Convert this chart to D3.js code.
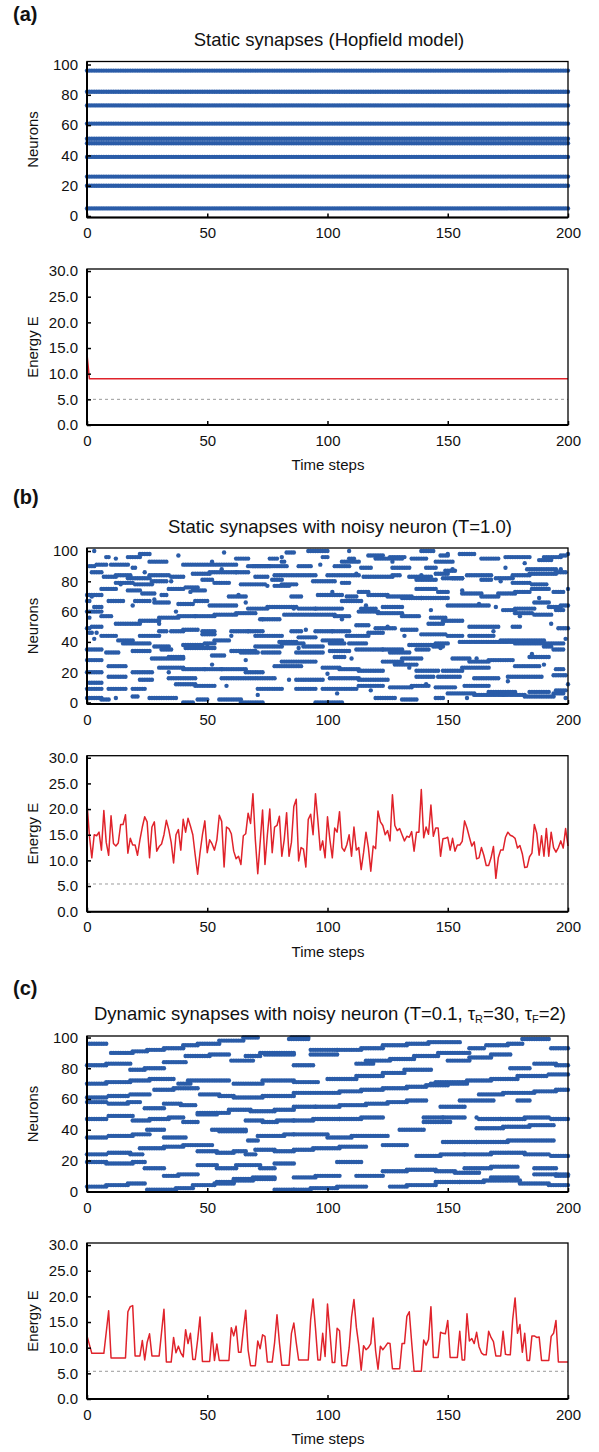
<!DOCTYPE html>
<html>
<head>
<meta charset="utf-8">
<script src="https://cdn.jsdelivr.net/npm/d3@7"></script>
<style>
    body { margin: 0; background: #fff; }
    svg { display: block; font-family: "Liberation Sans", Arial, sans-serif; }
</style>
</head>
<body>
<svg id="chart" width="599" height="1452"></svg>
<script>
// ---- data ----
const timeTicks = [0, 50, 100, 150, 200];
const neuronTicks = [0, 20, 40, 60, 80, 100];
const energyTicks = [0, 5, 10, 15, 20, 25, 30];
const panelLabels = ['(a)', '(b)', '(c)'];
const titles = ['Static synapses (Hopfield model)', 'Static synapses with noisy neuron (T=1.0)'];

// active neuron runs: [neuron, first step, last step]
const spikesA = [[96, 0, 200], [82, 0, 200], [73, 0, 200], [61, 0, 200], [51, 0, 200],
    [48, 0, 200], [39, 0, 200], [26, 0, 200], [20, 0, 200], [5, 0, 200]];

const spikesB = [
    [100,3,3],[98,22,26],[97,38,38],[99,57,57],[99,83,86],[100,92,100],[100,109,109],[100,139,144],[98,150,150],
    [96,17,22],[95,76,79],[96,98,100],[95,109,111],[97,117,123],[96,126,132],[95,135,141],[97,147,150],[98,155,161],[95,164,171],[96,174,184],[96,190,197],[97,197,199],
    [90,1,3],[96,8,9],[93,26,33],[95,62,67],[90,67,75],[93,81,82],[93,106,113],[95,120,131],[93,145,152],[94,188,193],
    [91,4,8],[91,10,17],[89,19,20],[91,40,62],[90,69,76],[90,76,83],[90,88,93],[90,103,109],[89,114,118],[89,127,134],[89,141,145],[87,149,153],[89,174,174],[88,183,195],
    [86,2,6],[83,7,12],[84,12,18],[82,17,26],[84,26,34],[83,35,40],[85,44,51],[86,51,62],[86,62,67],[83,70,75],[84,78,87],[84,88,95],[84,100,113],[83,115,127],[84,127,130],[83,134,143],[85,145,150],[82,152,156],[84,158,168],[82,170,177],[84,177,184],[85,184,195],[86,195,199],
    [75,6,12],[79,12,19],[78,20,27],[80,27,33],[75,34,40],[76,41,46],[81,48,52],[79,53,59],[78,64,74],[81,77,81],[78,81,87],[80,94,103],[79,106,109],[81,137,145],[82,148,156],[81,164,168],[79,177,184],[78,185,191],
    [71,0,6],[74,17,22],[72,23,28],[71,31,33],[74,44,49],[70,59,66],[77,78,84],[70,85,89],[71,96,106],[70,108,112],[73,113,117],[71,117,125],[70,125,135],[75,137,145],[73,146,150],[72,156,164],[70,164,171],[72,171,178],[73,178,184],[75,185,192],[73,194,198],
    [67,0,1],[63,3,6],[67,9,15],[67,20,26],[66,28,34],[65,38,44],[67,45,50],[64,51,62],[62,67,75],[63,75,87],[62,88,95],[62,95,106],[67,106,114],[62,114,120],[63,123,131],[69,131,139],[69,139,150],[64,150,167],[63,170,170],[61,173,178],[62,178,186],[66,186,192],[63,192,197],[64,197,200],
    [60,0,6],[57,6,10],[52,12,22],[54,22,30],[56,30,38],[57,38,45],[57,45,53],[58,53,62],[59,62,70],[55,72,80],[58,82,91],[58,92,103],[57,103,109],[60,113,121],[59,121,131],[57,131,138],[56,143,149],[59,178,185],[58,186,193],[61,195,198],
    [49,0,1],[50,2,6],[47,30,33],[47,35,40],[48,40,46],[47,48,53],[47,60,67],[47,67,73],[44,76,81],[47,85,89],[47,95,102],[47,102,109],[51,112,117],[49,120,128],[48,131,137],[52,142,148],[54,148,156],[50,159,171],[50,177,180],[49,196,200],
    [46,1,2],[44,6,12],[41,13,19],[44,22,30],[45,48,53],[41,53,59],[44,70,75],[40,80,87],[43,88,95],[41,98,106],[44,108,117],[46,117,123],[45,139,149],[44,150,156],[44,159,169],
    [35,0,6],[33,8,13],[39,15,26],[37,28,34],[38,40,48],[39,49,53],[34,60,70],[37,70,81],[39,81,90],[37,90,98],[39,101,107],[39,109,116],[35,112,123],[35,123,131],[38,134,145],[39,145,150],[40,155,178],[39,178,198],[41,172,190],
    [34,19,26],[35,31,35],[36,41,53],[33,64,71],[33,87,98],[34,101,109],[33,126,134],[35,137,142],[37,144,148],[37,190,193],[35,194,198],
    [28,0,6],[29,27,40],[30,34,40],[31,52,57],[33,73,80],[27,81,87],[27,88,95],[30,103,107],[27,123,131],[29,131,139],[29,152,159],[27,159,167],[28,167,177],[30,184,192],
    [20,0,6],[24,9,16],[20,19,27],[23,30,40],[22,40,49],[22,49,56],[22,56,66],[20,66,73],[24,78,89],[23,98,105],[22,105,113],[21,113,123],[25,128,137],[21,137,146],[21,148,156],[23,156,167],[24,178,188],[22,195,198],
    [13,1,6],[17,9,16],[15,22,27],[16,34,45],[16,56,69],[16,70,78],[15,87,98],[16,101,113],[15,113,125],[17,137,144],[17,146,155],[16,161,171],[17,175,189],[18,194,199],
    [9,0,6],[9,9,16],[9,19,24],[12,37,45],[11,45,53],[9,71,81],[9,87,95],[9,98,112],[11,113,123],[10,126,135],[11,135,142],[10,145,153],[11,157,167],[7,167,178],[7,184,192],[6,194,198],
    [3,0,6],[2,6,9],[3,12,12],[4,19,21],[3,26,37],[0,40,44],[2,46,50],[2,55,64],[0,64,73],[0,95,106],[3,120,128],[2,131,137],[3,145,148],[6,150,161],[5,161,173],[5,173,182],[4,182,194],[8,195,199]
];

// isolated single firings in (b): [neuron, step]
const dotsB = [[95,12],[70,2],[46,4],[42,3],[56,1],[78,14],[64,19],[86,24],[68,28],[52,30],[80,35],[20,34],[60,37],
    [73,43],[37,50],[25,52],[93,52],[88,56],[11,58],[44,60],[71,63],[66,66],[28,66],[5,71],[55,73],[77,75],[96,81],
    [15,84],[62,86],[36,88],[48,91],[91,97],[19,100],[73,102],[6,104],[55,106],[29,110],[85,112],[64,116],[8,118],
    [50,125],[93,127],[44,132],[23,134],[84,139],[12,141],[61,143],[36,147],[88,152],[74,156],[3,158],[29,162],
    [65,163],[47,169],[80,172],[14,175],[57,180],[92,182],[32,185],[69,188],[25,190],[52,193],[88,197],[3,199],
    [42,199],[75,200],[98,200],[12,200]];

const spikesC = [
    [96,1,8],
    [90,10,19],[91,19,25],[92,25,32],[93,32,40],[95,40,46],[96,46,55],[98,55,65],[100,65,71],[100,85,92],
    [88,41,51],[89,51,59],[85,60,69],[88,66,72],[90,72,86],[89,74,86],
    [82,0,8],[83,8,18],[79,18,24],[80,24,32],[84,32,41],
    [70,0,8],[71,8,18],[72,18,26],[73,26,36],[70,38,43],[72,42,59],[70,61,73],[72,73,86],
    [66,28,36],[67,36,46],
    [61,0,8],[62,9,17],[63,18,26],[63,47,55],[62,55,61],[61,61,73],[62,73,86],
    [58,0,8],[57,9,17],[58,17,22],[54,24,32],[57,32,39],[56,39,45],[51,46,54],[50,46,54],[51,54,59],[53,59,68],[52,68,78],[53,78,86],
    [47,0,8],[49,9,19],[46,19,26],[47,26,34],[48,34,40],[45,40,46],[46,66,73],[45,73,79],[46,79,86],
    [40,52,66],[39,55,66],[40,25,32],[33,67,71],[36,71,82],[37,82,86],
    [35,0,8],[36,9,19],[37,19,26],[35,32,41],
    [28,22,32],[29,32,40],[30,40,52],[26,46,54],[25,54,61],[26,61,66],[24,66,70],[27,70,78],[26,78,86],
    [24,0,8],[25,9,18],[24,18,23],
    [19,0,8],[18,8,19],[19,19,24],[15,24,32],[17,46,54],[15,54,62],[17,62,72],[15,72,78],[18,78,86],
    [10,32,38],[11,38,46],[6,54,61],[8,61,69],[9,69,78],
    [3,0,8],[4,8,17],[5,17,24],[1,25,37],[2,37,44],[4,44,53],[5,53,61],[7,61,69],[8,69,78],[1,78,86],
    [99,84,92],[92,93,104],[89,93,104],[92,104,114],[93,114,123],[95,123,133],[96,133,142],[97,142,155],
    [93,159,165],[95,166,175],[96,175,181],[99,181,192],[93,193,200],
    [82,86,94],[83,112,119],[85,116,126],[86,126,136],[88,136,146],[90,146,159],[85,150,159],[87,159,168],[89,168,176],[80,176,184],[83,186,195],[82,195,200],
    [71,86,96],[73,100,112],[75,112,123],[77,123,132],[79,132,143],[70,143,158],[71,145,158],[72,158,168],[73,168,179],[75,179,191],[76,192,200],
    [64,86,94],[64,95,105],[65,105,114],[66,114,123],[67,123,133],[68,133,141],[69,141,150],[63,163,173],[64,173,186],[65,186,195],[66,195,200],
    [55,86,95],[55,95,105],[56,105,116],[57,116,125],[58,125,133],[59,133,141],[59,155,169],[59,179,184],[55,147,157],
    [46,86,94],[47,94,105],[47,105,114],[48,114,123],[48,140,148],[48,148,157],[47,163,172],[47,172,182],[48,182,192],[47,193,200],[45,140,151],[48,162,162],
    [37,86,100],[35,100,110],[36,110,125],[40,130,140],[41,162,173],[42,173,184],[43,184,194],
    [27,86,94],[28,94,105],[29,105,116],[30,123,133],[32,148,162],[32,162,175],[33,175,194],
    [23,137,147],[24,147,157],[24,157,168],[25,168,182],[24,182,192],[23,193,200],[19,104,114],
    [15,157,168],[16,168,179],[15,186,195],[11,195,200],
    [9,86,95],[10,95,105],[10,112,123],[13,123,133],[14,133,145],[13,145,153],[12,153,163],[9,168,179],[11,186,195],[10,195,200],
    [1,86,93],[2,93,104],[3,104,116],[3,126,133],[4,133,145],[6,145,155],[6,155,165],[7,165,180],[5,180,192],[4,192,200]
];

// energy (a): [step, E]
const energyA = [[0, 13.8], [1, 9.0], [200, 9.0]];

// energy (b), (c): one value per step 0..200
const energyB = [
    21.2, 14.8, 10.5, 15, 14.8, 15.5, 12, 19.7, 13.5, 11,
    18.7, 13.3, 12.8, 13.4, 17, 17, 18.9, 11.4, 14.3, 13,
    13, 11, 14, 16.5, 18.5, 17.5, 10.5, 16.5, 17.5, 11.8,
    12.7, 13.2, 15, 17.8, 16, 13.5, 9.5, 15, 16, 12,
    18, 15.5, 18.2, 16.7, 15, 11, 7.3, 11.5, 15, 17.7,
    11.5, 14, 13.2, 12, 14, 18.8, 17.6, 8.7, 16.5, 16.2,
    15.2, 11.8, 10.3, 10.8, 9.2, 14.8, 15.2, 19.2, 17.2, 23,
    14, 7.4, 13.5, 19.8, 9.2, 15, 20, 11.5, 16.5, 16.8,
    18.6, 10.8, 14, 19.3, 10.8, 13.5, 20.5, 21.9, 9.9, 12.5,
    12.2, 8.7, 18, 19, 15, 23, 17.8, 12, 13.8, 10.5,
    18.5, 14, 10.5, 16.3, 15.5, 19.5, 12.5, 11.8, 13, 15,
    10.8, 16.5, 12, 12.5, 8.2, 11.5, 15.5, 12.5, 7.9, 12.8,
    12.3, 19.6, 17.5, 16.8, 15, 15.8, 13.8, 22.8, 16.8, 15.8,
    16.2, 15, 13.8, 14.7, 14.5, 15.6, 11.8, 15.5, 15.5, 23.8,
    14.4, 16.5, 15.1, 20.8, 14.7, 16.3, 16.3, 10.8, 14.2, 14.3,
    14.5, 12, 14.3, 11.8, 13, 13, 13.7, 17.7, 16.3, 14.5,
    12.8, 13.6, 10.3, 10.5, 12.5, 11, 9, 9, 10.5, 12.7,
    6.5, 10.5, 12, 12, 14.5, 15.5, 14.9, 14.7, 14.3, 12.4,
    12.9, 11.3, 8.6, 8.7, 10.7, 11.4, 17, 15.3, 11, 14.8,
    10.8, 16.2, 10.8, 15.5, 12.5, 11.6, 12.5, 13.8, 12.4, 16.2,
    12.8
];

const energyC = [
    12.3, 10.6, 8.9, 8.9, 8.9, 8.9, 8.9, 8.9, 13, 17.2,
    8, 8, 8, 8, 8, 8, 8, 17, 18, 18.2,
    8.4, 8.4, 8.4, 11.4, 7.6, 11, 12.7, 8.4, 8.4, 8.4,
    8.4, 13, 17.5, 7.2, 7.2, 7.2, 12, 9, 10.3, 9,
    8.2, 13.5, 10.8, 12.8, 7.7, 7.7, 11.5, 16, 7.3, 7.3,
    7.3, 7.3, 12.9, 7.5, 10.7, 7.5, 7.5, 7.5, 7.5, 7.5,
    13.9, 12.3, 14.2, 9.1, 9.1, 13.5, 17.3, 9.5, 6.5, 6.5,
    6.5, 11.3, 9.8, 12.5, 12.2, 7.2, 7.2, 7.2, 11, 16.4,
    11, 6.6, 6.6, 6.6, 6.6, 12.8, 14.8, 11, 7.6, 7.6,
    7.6, 7.6, 7.6, 15.5, 19.5, 13.8, 7.6, 7.6, 12.8, 8.3,
    18.5, 13, 7.1, 7.1, 13.8, 13.3, 6.5, 6.5, 6.5, 10,
    16, 19.4, 14, 10.5, 5.6, 10.4, 9.6, 10, 10.8, 15.8,
    9.4, 5.8, 10.3, 9.6, 10.2, 10.9, 10.8, 5.9, 5.9, 5.9,
    5.9, 10.8, 10.8, 16.1, 17, 11, 5.4, 5.4, 5.4, 5.4,
    11.5, 10.5, 11.6, 18, 8.1, 8.1, 8.1, 13, 12.8, 12.7,
    15.3, 8.1, 8.1, 8.1, 8.1, 13.2, 7.6, 7.6, 16.6, 11.3,
    11.8, 10.8, 13, 10.2, 9, 8.6, 8.6, 13.2, 12, 11.2,
    8.4, 8.4, 8.4, 13.2, 8.7, 8.6, 8.6, 15.5, 19.7, 12.8,
    14.5, 9.1, 12.8, 7.5, 7.5, 12.3, 12.3, 12, 12.1, 7.5,
    7.5, 7.5, 7.5, 12.2, 12.8, 15.3, 7.2, 7.2, 7.2, 7.2,
    7.2
];

// level of the dashed reference line
const refEnergy = [5.0, 5.4, 5.4];

// ---- drawing ----
const BLUE = '#2a5ca8';
const RED = '#e0232b';
const LEFT = 87, RIGHT = 568;
const BOX_H = 156;

const svg = d3.select('#chart');
const x = d3.scaleLinear().domain([0, 200]).range([LEFT, RIGHT]);

function drawFrame(g, top, y, ticks, fmt) {
    let bottom = top + BOX_H;
    g.append('rect')
        .attr('x', LEFT).attr('y', top)
        .attr('width', RIGHT - LEFT).attr('height', BOX_H)
        .attr('fill', 'none').attr('stroke', '#000').attr('stroke-width', 1.3);

    let xAxis = g.append('g')
        .attr('transform', `translate(0,${bottom})`)
        .call(d3.axisBottom(x).tickValues(timeTicks).tickSize(-4).tickPadding(10).tickFormat(d3.format('d')));
    let yAxis = g.append('g')
        .attr('transform', `translate(${LEFT},0)`)
        .call(d3.axisLeft(y).tickValues(ticks).tickSize(-4).tickPadding(9).tickFormat(fmt));

    [xAxis, yAxis].forEach(a => {
        a.select('.domain').remove();
        a.selectAll('line').attr('stroke', '#000').attr('stroke-width', 1.5);
        a.selectAll('text')
            .attr('fill', '#111')
            .style('font-size', '15px')
            .style('font-family', '"Liberation Sans", Arial, sans-serif');
    });

    // heavier left and bottom axis lines
    g.append('line').attr('x1', LEFT).attr('x2', LEFT).attr('y1', top).attr('y2', bottom)
        .attr('stroke', '#000').attr('stroke-width', 2);
    g.append('line').attr('x1', LEFT).attr('x2', RIGHT).attr('y1', bottom).attr('y2', bottom)
        .attr('stroke', '#000').attr('stroke-width', 2);
}

function yLabel(g, text, top) {
    g.append('text')
        .attr('transform', `translate(33,${top + BOX_H / 2}) rotate(-90)`)
        .attr('text-anchor', 'middle')
        .attr('dy', '0.35em')
        .style('font-size', '15px')
        .attr('fill', '#111')
        .text(text);
}

function expandRuns(runs) {
    let pts = [];
    runs.forEach(([n, t0, t1]) => {
        for (let t = t0; t <= t1; ++t) pts.push({ n: n, t: t });
    });
    return pts;
}

function raster(top, runs, singles, domain) {
    let g = svg.append('g');
    let y = d3.scaleLinear().domain(domain).range([top + BOX_H, top]);
    let pts = expandRuns(runs).concat(singles.map(([n, t]) => ({ n: n, t: t })));
    g.append('g').selectAll('circle')
        .data(pts)
        .enter().append('circle')
        .attr('cx', d => x(d.t))
        .attr('cy', d => y(d.n))
        .attr('r', 2.2)
        .attr('fill', BLUE);
    drawFrame(g, top, y, neuronTicks, d3.format('d'));
    yLabel(g, 'Neurons', top);
}

function energy(top, points, ref) {
    let g = svg.append('g');
    let y = d3.scaleLinear().domain([0, 30.4]).range([top + BOX_H, top]);
    g.append('line')
        .attr('x1', LEFT).attr('x2', RIGHT)
        .attr('y1', y(ref)).attr('y2', y(ref))
        .attr('stroke', '#9a9a9a').attr('stroke-width', 1)
        .attr('stroke-dasharray', '3,3');
    let line = d3.line().x(d => x(d[0])).y(d => y(d[1]));
    g.append('path')
        .datum(points)
        .attr('d', line)
        .attr('fill', 'none')
        .attr('stroke', RED)
        .attr('stroke-width', 1.5)
        .attr('stroke-linejoin', 'round');
    drawFrame(g, top, y, energyTicks, d3.format('.1f'));
    yLabel(g, 'Energy E', top);
    g.append('text')
        .attr('x', 328).attr('y', top + BOX_H + 45)
        .attr('text-anchor', 'middle')
        .style('font-size', '15px')
        .attr('fill', '#111')
        .text('Time steps');
}

function panelHead(label, labelY, titleX, titleY) {
    svg.append('text')
        .attr('x', 13).attr('y', labelY)
        .style('font-size', '20px').style('font-weight', 'bold')
        .attr('fill', '#111')
        .text(label);
    return svg.append('text')
        .attr('x', titleX).attr('y', titleY)
        .attr('text-anchor', 'middle')
        .style('font-size', '18.5px')
        .attr('fill', '#111');
}

// (a)
panelHead(panelLabels[0], 21, 329, 46).text(titles[0]);
raster(61.5, spikesA, [], [-1, 102]);
energy(269, energyA, refEnergy[0]);

// (b)
panelHead(panelLabels[1], 504, 340, 533).text(titles[1]);
raster(548, spikesB, dotsB, [-1, 102]);
energy(755.7, energyB.map((v, i) => [i, v]), refEnergy[1]);

// (c)
let tc = panelHead(panelLabels[2], 995, 330, 1020);
tc.append('tspan').text('Dynamic synapses with noisy neuron (T=0.1, \u03c4');
tc.append('tspan').attr('dy', 3).style('font-size', '11px').text('R');
tc.append('tspan').attr('dy', -3).text('=30, \u03c4');
tc.append('tspan').attr('dy', 3).style('font-size', '11px').text('F');
tc.append('tspan').attr('dy', -3).text('=2)');
raster(1036, spikesC, [], [-0.5, 101]);
energy(1243, energyC.map((v, i) => [i, v]), refEnergy[2]);
</script>
</body>
</html>
